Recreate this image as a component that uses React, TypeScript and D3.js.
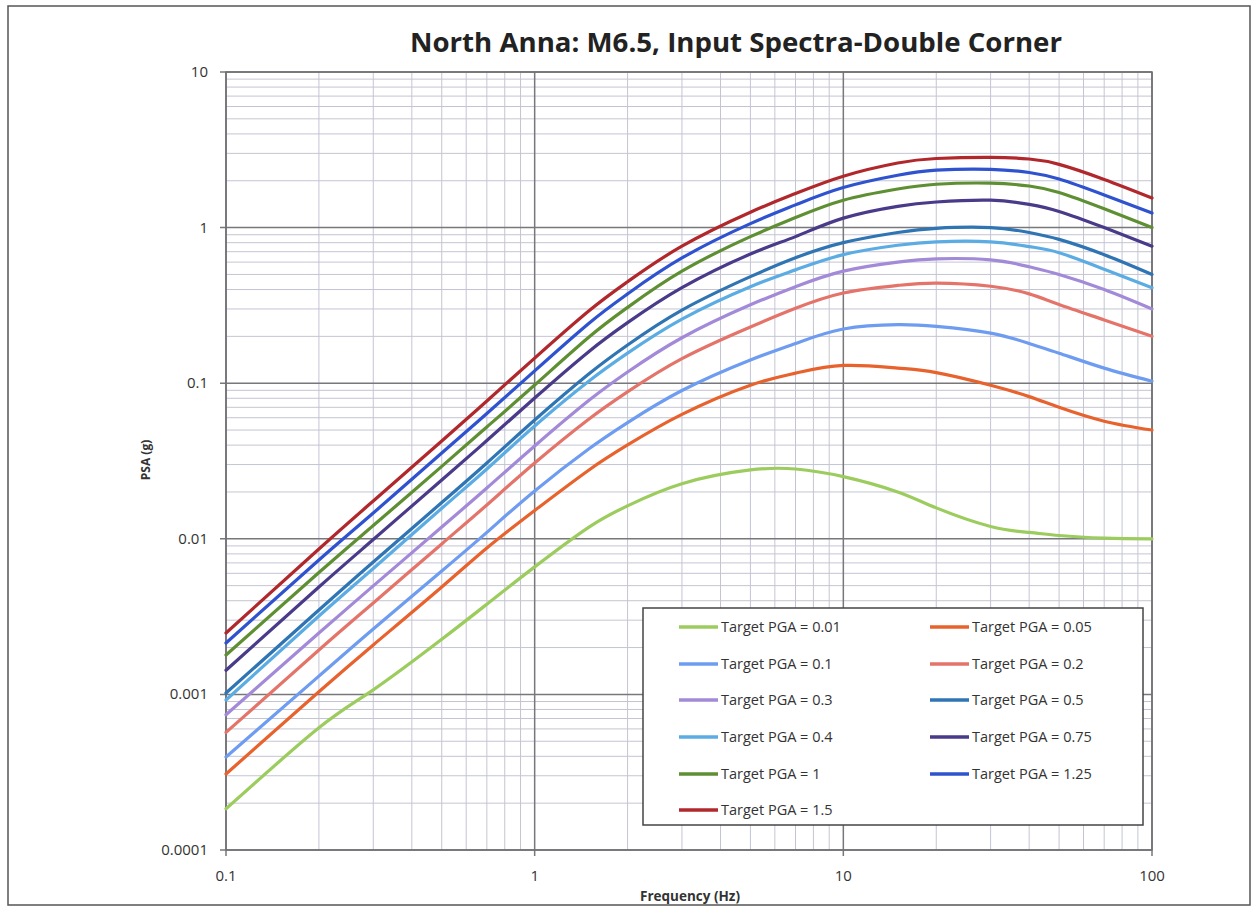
import React from "react";
import * as d3 from "d3";

const frequencies = [0.1, 0.2, 0.3, 0.5, 0.7, 1, 1.5, 2, 3, 5, 7, 10, 15, 20, 30, 40, 50, 70, 100];

const pga001 = [0.000184, 0.00061, 0.00107, 0.00226, 0.0038, 0.0066, 0.0119, 0.0163, 0.0226, 0.0277, 0.0281, 0.0251, 0.02, 0.0158, 0.012, 0.011, 0.0105, 0.0101, 0.01];
const pga005 = [0.000308, 0.00104, 0.00208, 0.0049, 0.00873, 0.0152, 0.0277, 0.0401, 0.063, 0.097, 0.116, 0.13, 0.125, 0.117, 0.097, 0.082, 0.07, 0.057, 0.05];
const pga01 = [0.000396, 0.00131, 0.00263, 0.00621, 0.011, 0.0203, 0.0379, 0.0558, 0.0897, 0.141, 0.18, 0.223, 0.238, 0.232, 0.21, 0.18, 0.156, 0.125, 0.103];
const pga02 = [0.00057, 0.00193, 0.00387, 0.00927, 0.0165, 0.0307, 0.0589, 0.0881, 0.144, 0.23, 0.303, 0.38, 0.425, 0.44, 0.42, 0.375, 0.32, 0.255, 0.2];
const pga03 = [0.00074, 0.00248, 0.00498, 0.0119, 0.0212, 0.0395, 0.0776, 0.118, 0.196, 0.319, 0.417, 0.525, 0.6, 0.63, 0.62, 0.56, 0.5, 0.4, 0.3];
const pga04 = [0.00092, 0.00319, 0.00645, 0.0157, 0.0281, 0.0531, 0.1033, 0.156, 0.258, 0.417, 0.535, 0.67, 0.77, 0.81, 0.81, 0.755, 0.69, 0.54, 0.41];
const pga05 = [0.00102, 0.00349, 0.0071, 0.0171, 0.0307, 0.058, 0.115, 0.176, 0.295, 0.484, 0.64, 0.8, 0.93, 0.99, 1.0, 0.93, 0.84, 0.67, 0.5];
const pga075 = [0.00143, 0.0049, 0.00989, 0.0239, 0.0428, 0.0803, 0.16, 0.245, 0.411, 0.676, 0.875, 1.15, 1.37, 1.46, 1.5, 1.41, 1.27, 1.0, 0.76];
const pga1 = [0.00179, 0.00607, 0.01217, 0.0292, 0.0523, 0.0973, 0.198, 0.307, 0.525, 0.875, 1.16, 1.5, 1.77, 1.9, 1.93, 1.85, 1.68, 1.32, 1.0];
const pga125 = [0.00214, 0.00731, 0.01465, 0.0356, 0.0638, 0.12, 0.243, 0.375, 0.638, 1.06, 1.4, 1.81, 2.17, 2.34, 2.37, 2.26, 2.05, 1.62, 1.24];
const pga15 = [0.00248, 0.0086, 0.0175, 0.0425, 0.0769, 0.145, 0.292, 0.449, 0.76, 1.256, 1.655, 2.14, 2.6, 2.78, 2.83, 2.76, 2.55, 2.04, 1.55];

const seriesLabels = [
  "Target PGA = 0.01", "Target PGA = 0.05", "Target PGA = 0.1", "Target PGA = 0.2",
  "Target PGA = 0.3", "Target PGA = 0.5", "Target PGA = 0.4", "Target PGA = 0.75",
  "Target PGA = 1", "Target PGA = 1.25", "Target PGA = 1.5",
];
const seriesValues = [pga001, pga005, pga01, pga02, pga03, pga05, pga04, pga075, pga1, pga125, pga15];
const seriesColors = [
  "#9ccc5e", "#e8622e", "#6e9cf0", "#e4746a", "#a28ad8", "#2f74b3", "#5cace4", "#4a3a8a", "#5f8f33", "#2f52cf", "#b0282c",
];
const drawOrder = [0, 1, 2, 3, 4, 6, 5, 7, 8, 9, 10];

const xTicks = [0.1, 1, 10, 100];
const xTickLabels = ["0.1", "1", "10", "100"];
const yTicks = [0.0001, 0.001, 0.01, 0.1, 1, 10];
const yTickLabels = ["0.0001", "0.001", "0.01", "0.1", "1", "10"];

const FONT = "'Open Sans', 'Noto Sans', sans-serif";

export default function App() {
  const W = 1255, H = 909;
  const left = 226, right = 1152, top = 72, bottom = 850;
  const x = d3.scaleLog().domain([0.1, 100]).range([left, right]);
  const y = d3.scaleLog().domain([0.0001, 10]).range([bottom, top]);

  const minorX: number[] = [];
  for (let e = -1; e < 2; e++) for (let k = 2; k <= 9; k++) minorX.push(k * Math.pow(10, e));
  const minorY: number[] = [];
  for (let e = -4; e < 1; e++) for (let k = 2; k <= 9; k++) minorY.push(k * Math.pow(10, e));

  const line = d3
    .line<[number, number]>()
    .x((d) => x(d[0]))
    .y((d) => y(d[1]))
    .curve(d3.curveNatural);

  const legLeft = 643, legTop = 608, legRight = 1143, legBottom = 825;
  const legRows = [627, 664, 700, 737, 774, 810];
  const legCols = [679, 930];

  return (
    <svg width={W} height={H} style={{ position: "absolute", left: 0, top: 0, background: "#fff" }}>
      <rect x={0} y={0} width={W} height={H} fill="#fff" />
      <rect x={8} y={6} width={1242} height={899} fill="none" stroke="#555" strokeWidth={1.5} />
      <text x={736} y={52} textAnchor="middle" fontFamily={FONT} fontWeight="bold" fontSize={27} fill="#222" textLength={652} lengthAdjust="spacingAndGlyphs">
        North Anna: M6.5, Input Spectra-Double Corner
      </text>

      {minorX.map((v, i) => (
        <line key={"mx" + i} x1={x(v)} x2={x(v)} y1={top} y2={bottom} stroke="#c4c5d3" strokeWidth={1} />
      ))}
      {minorY.map((v, i) => (
        <line key={"my" + i} x1={left} x2={right} y1={y(v)} y2={y(v)} stroke="#c4c5d3" strokeWidth={1} />
      ))}
      {xTicks.map((v, i) => (
        <line key={"Mx" + i} x1={x(v)} x2={x(v)} y1={top} y2={bottom + 6} stroke="#77777c" strokeWidth={1.5} />
      ))}
      {yTicks.map((v, i) => (
        <line key={"My" + i} x1={left - 6} x2={right} y1={y(v)} y2={y(v)} stroke="#77777c" strokeWidth={1.5} />
      ))}
      <rect x={left} y={top} width={right - left} height={bottom - top} fill="none" stroke="#6f6f73" strokeWidth={1.5} />

      {yTicks.map((v, i) => (
        <text key={"yl" + i} x={208} y={y(v) + 5} textAnchor="end" fontFamily={FONT} fontSize={15} fill="#333">
          {yTickLabels[i]}
        </text>
      ))}
      {xTicks.map((v, i) => (
        <text key={"xl" + i} x={x(v)} y={881} textAnchor="middle" fontFamily={FONT} fontSize={15} fill="#333">
          {xTickLabels[i]}
        </text>
      ))}
      <text x={690} y={901} textAnchor="middle" fontFamily={FONT} fontWeight="bold" fontSize={13.5} fill="#333">
        Frequency (Hz)
      </text>
      <text transform="translate(150,460) rotate(-90)" textAnchor="middle" fontFamily={FONT} fontWeight="bold" fontSize={12} fill="#333">
        PSA (g)
      </text>

      {drawOrder.map((si) => (
        <path
          key={"s" + si}
          d={line(frequencies.map((f, j) => [f, seriesValues[si][j]] as [number, number])) || ""}
          fill="none"
          stroke={seriesColors[si]}
          strokeWidth={3.2}
          strokeLinejoin="round"
          strokeLinecap="round"
        />
      ))}

      <rect x={legLeft} y={legTop} width={legRight - legLeft} height={legBottom - legTop} fill="#fff" stroke="#444" strokeWidth={1.5} />
      {seriesLabels.map((lab, i) => {
        const r = Math.floor(i / 2), c = i % 2;
        const lx = legCols[c], ly = legRows[r];
        return (
          <g key={"lg" + i}>
            <line x1={lx} x2={lx + 39} y1={ly} y2={ly} stroke={seriesColors[i]} strokeWidth={3.5} />
            <text x={lx + 42} y={ly + 5} fontFamily={FONT} fontSize={14.5} fill="#333">
              {lab}
            </text>
          </g>
        );
      })}
    </svg>
  );
}
